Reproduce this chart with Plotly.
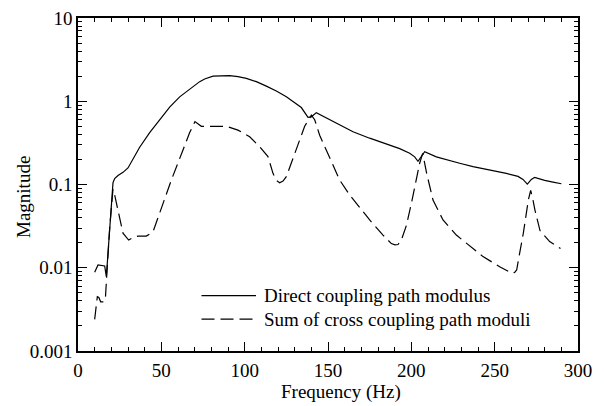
import plotly.graph_objects as go

# Direct coupling path modulus
direct_freq = [10, 12, 16, 17, 21, 22, 24, 27, 30, 37, 43, 49, 55, 61, 66, 70, 73, 76, 81, 91,
               96, 101, 107, 113, 119, 125, 130, 134, 138, 140, 143, 150, 157, 165, 175, 185,
               193, 199, 202, 204, 206, 208, 215, 222, 229, 237, 247, 257, 264, 267, 269.6,
               272, 274, 280, 285, 290]
direct_mag = [0.0088, 0.0108, 0.0105, 0.0078, 0.105, 0.118, 0.128, 0.14, 0.158, 0.28, 0.42, 0.60,
              0.85, 1.13, 1.35, 1.52, 1.72, 1.85, 2.0, 2.03, 1.98, 1.88, 1.72, 1.52, 1.33, 1.13,
              0.97, 0.84, 0.64, 0.65, 0.73, 0.62, 0.52, 0.43, 0.36, 0.31, 0.27, 0.237, 0.215,
              0.19, 0.22, 0.248, 0.215, 0.195, 0.18, 0.164, 0.15, 0.136, 0.125, 0.115, 0.101,
              0.115, 0.122, 0.112, 0.107, 0.102]

# Sum of cross coupling path moduli
cross_freq = [10, 11.6, 12.5, 13.6, 15.6, 16.5, 17.2, 19, 21, 22, 24, 27, 30.4, 33, 36, 41, 45,
              50, 56, 63, 67, 70.2, 72, 74, 81, 89, 96, 103, 109, 114, 117, 119, 121, 123, 125,
              131, 136, 140, 142, 145, 151, 157, 163, 167, 175, 183, 188, 190.2, 192, 194, 197,
              200, 203, 205, 206.8, 208, 209.2, 213, 219, 227, 235, 243, 253, 258, 260.2, 262,
              263.2, 265, 267.2, 270.2, 271.6, 273, 274.2, 277.2, 283, 289.5]
cross_mag = [0.0024, 0.0045, 0.0044, 0.0039, 0.0039, 0.0045, 0.0078, 0.03, 0.088, 0.075, 0.049,
             0.026, 0.0215, 0.023, 0.024, 0.024, 0.027, 0.052, 0.113, 0.26, 0.42, 0.57, 0.53,
             0.50, 0.50, 0.50, 0.45, 0.375, 0.284, 0.216, 0.136, 0.112, 0.105, 0.11, 0.124,
             0.26, 0.50, 0.68, 0.6, 0.39, 0.205, 0.113, 0.075, 0.059, 0.0375, 0.0247, 0.0195,
             0.0188, 0.019, 0.0215, 0.032, 0.059, 0.11, 0.18, 0.237, 0.18, 0.136, 0.065,
             0.0375, 0.0247, 0.0185, 0.0136, 0.0103, 0.009, 0.0086, 0.0088, 0.0094, 0.015,
             0.026, 0.065, 0.085, 0.065, 0.049, 0.028, 0.0206, 0.017]

series_names = ["Direct coupling path modulus", "Sum of cross coupling path moduli"]
x_title = "Frequency (Hz)"
y_title = "Magnitude"

x_ticks = [0, 50, 100, 150, 200, 250, 300]
y_tickvals = [0.001, 0.01, 0.1, 1, 10]
y_ticktext = ["0.001", "0.01", "0.1", "1", "10"]
y_minor_vals = [m * d for d in (0.001, 0.01, 0.1, 1) for m in range(2, 10)]

FONT = "Liberation Serif"
DASH = "13px,6px"
TXT = dict(family=FONT, size=19, color="black")

fig = go.Figure()
fig.add_trace(go.Scatter(x=direct_freq, y=direct_mag, mode="lines", name=series_names[0],
                         line=dict(color="black", width=1.2), showlegend=False))
fig.add_trace(go.Scatter(x=cross_freq, y=cross_mag, mode="lines", name=series_names[1],
                         line=dict(color="black", width=1.2, dash=DASH), showlegend=False))

axis_common = dict(showline=True, linecolor="black", linewidth=1.5, mirror="allticks",
                   ticks="inside", ticklen=9, tickwidth=1.2, tickcolor="black",
                   showgrid=False, zeroline=False, automargin=False,
                   tickfont=TXT)

fig.update_xaxes(range=[0, 300], tickvals=x_ticks, ticklabelstandoff=1,
                 minor=dict(ticks="inside", ticklen=4, dtick=10, tickcolor="black", tickwidth=1,
                            showgrid=False),
                 **axis_common)
fig.update_yaxes(type="log", range=[-3, 1], tickvals=y_tickvals, ticktext=y_ticktext,
                 minor=dict(ticks="inside", ticklen=4, tickmode="array", tickvals=y_minor_vals,
                            tickcolor="black", tickwidth=1, showgrid=False),
                 **axis_common)

# Axis titles placed as in the original (slightly off-centre)
fig.add_annotation(xref="paper", yref="paper", x=0.526, y=-0.124, xanchor="center",
                   yanchor="middle", text=x_title, showarrow=False, font=TXT)
fig.add_annotation(xref="paper", yref="paper", x=-0.108, y=0.4625, xanchor="center",
                   yanchor="middle", text=y_title, textangle=-90, showarrow=False, font=TXT)

# Legend drawn in paper coordinates (long line samples as in the original)
legend_rows = [(0.166, "solid"), (0.096, DASH)]
for (yy, dash), name in zip(legend_rows, series_names):
    fig.add_shape(type="line", xref="paper", yref="paper", x0=0.247, x1=0.356, y0=yy, y1=yy,
                  line=dict(color="black", width=1.2, dash=dash))
    fig.add_annotation(xref="paper", yref="paper", x=0.367, y=yy, xanchor="left",
                       yanchor="middle", text=name, showarrow=False, font=TXT)

fig.update_layout(
    width=604, height=406,
    margin=dict(l=78, r=26, t=18, b=55),
    paper_bgcolor="white", plot_bgcolor="white",
    font=TXT,
    showlegend=False,
)

fig.write_html("out.html")
